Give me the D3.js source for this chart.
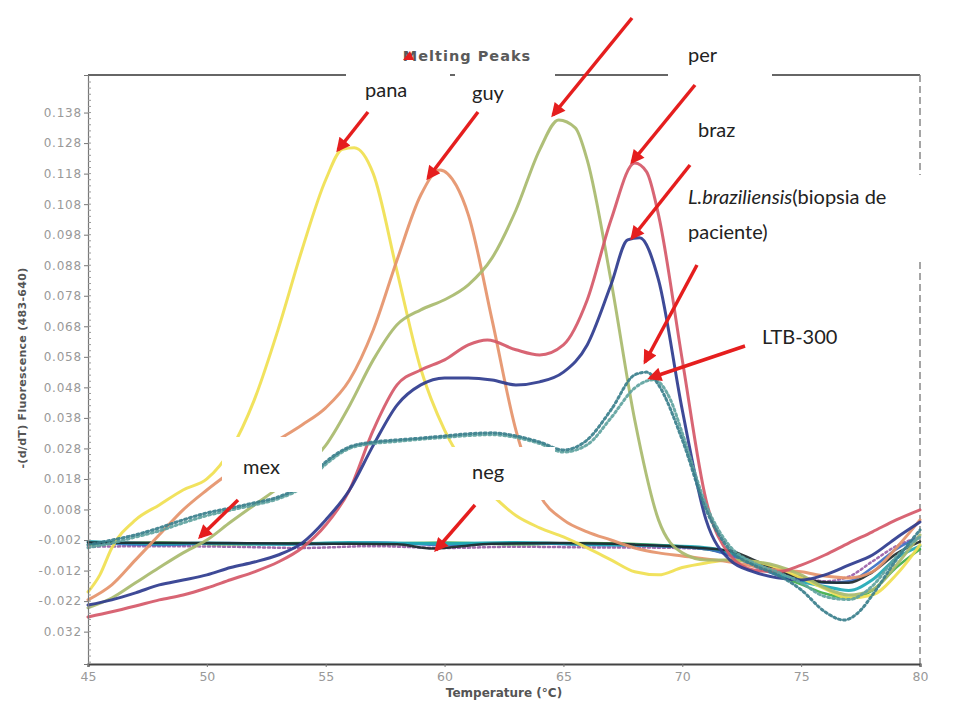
<!DOCTYPE html>
<html><head><meta charset="utf-8">
<script src="https://cdn.jsdelivr.net/npm/d3@7/dist/d3.min.js"></script>
<style>body{margin:0;background:#fff}svg{display:block}</style>
</head><body>
<svg id="c" width="953" height="707"></svg>
<script>
// ---- data ----
const xTicks = [45,50,55,60,65,70,75,80];
const yTickValues = [0.138,0.128,0.118,0.108,0.098,0.088,0.078,0.068,0.058,0.048,0.038,0.028,0.018,0.008,-0.002,-0.012,-0.022,-0.032];
const yTickLabels = ["0.138","0.128","0.118","0.108","0.098","0.088","0.078","0.068","0.058","0.048","0.038","0.028","0.018","0.008","-0.002","-0.012","-0.022","0.032"];

const pana = [[45,-0.019],[45.5,-0.0134],[46,-0.0046],[47,0.0046],[48,0.0095],[49,0.0144],[50,0.018],[51,0.0275],[52,0.044],[53,0.067],[54,0.093],[55,0.116],[55.7,0.126],[56.2,0.1265],[57,0.118],[58,0.086],[59,0.054],[60,0.034],[61,0.021],[62,0.0128],[63,0.006],[64,0.002],[65,-0.001],[66,-0.0046],[67,-0.0085],[68,-0.0124],[69,-0.0134],[70,-0.011],[71,-0.0095],[72,-0.0085],[73,-0.009],[74,-0.011],[75,-0.0144],[76,-0.018],[77,-0.021],[78,-0.020],[79,-0.0134],[80,-0.0036]];
const guy = [[45,-0.0216],[46,-0.0167],[47,-0.0085],[48,-0.0003],[49,0.0079],[50,0.0144],[51,0.0203],[52,0.0259],[53,0.0308],[54,0.0357],[55,0.0413],[56,0.0504],[57,0.0668],[58,0.0897],[59,0.111],[59.8,0.1192],[60.5,0.114],[61,0.1045],[62,0.070],[63,0.034],[64,0.0128],[65,0.0046],[66,0.0007],[67,-0.002],[68,-0.0046],[69,-0.0062],[70,-0.0072],[72,-0.0092],[74,-0.0118],[75,-0.0124],[76,-0.0138],[77,-0.0144],[78,-0.0124],[79,-0.0046],[80,0.0046]];
const olive = [[45,-0.0242],[46,-0.021],[47,-0.016],[48,-0.011],[49,-0.0062],[50,-0.002],[51,0.0039],[52,0.0095],[53,0.015],[54,0.021],[55,0.029],[56,0.042],[57,0.057],[58,0.0685],[59,0.0734],[60,0.0767],[61,0.0816],[62,0.0904],[63,0.106],[64,0.1258],[64.8,0.1356],[65.5,0.133],[66,0.1225],[67,0.083],[68,0.0373],[69,0.0046],[70,-0.0062],[71,-0.0085],[72,-0.0085],[73,-0.009],[74,-0.0105],[75,-0.0134],[76,-0.0177],[77,-0.020],[78,-0.0183],[79,-0.0102],[80,-0.0003]];
const per = [[45,-0.0272],[46,-0.0255],[47,-0.0236],[48,-0.0216],[49,-0.020],[50,-0.0177],[51,-0.015],[52,-0.0124],[53,-0.0092],[54,-0.0046],[55,0.0029],[56,0.0144],[57,0.034],[58,0.0488],[59,0.0537],[60,0.057],[61,0.0619],[61.8,0.0635],[63,0.0603],[64,0.0586],[65,0.0619],[66,0.0766],[67,0.1028],[68,0.1215],[68.5,0.1186],[69,0.1045],[70,0.057],[71,0.0111],[72,-0.0069],[73,-0.0118],[74,-0.0124],[75,-0.0102],[76,-0.0069],[77,-0.003],[78,0.0007],[79,0.0046],[80,0.0079]];
const braz = [[45,-0.0233],[46,-0.0216],[47,-0.0193],[48,-0.0167],[49,-0.0151],[50,-0.0134],[51,-0.011],[52,-0.0092],[53,-0.0069],[54,-0.003],[55,0.0046],[56,0.0144],[57,0.029],[58,0.0422],[59,0.0488],[60,0.0511],[61,0.0511],[62,0.0504],[63,0.0488],[64,0.0498],[65,0.053],[66,0.0619],[67,0.0816],[67.7,0.0963],[68.2,0.097],[69,0.0832],[70,0.0406],[71,0.0046],[72,-0.0085],[73,-0.0124],[74,-0.0144],[75,-0.0151],[76,-0.0134],[77,-0.0102],[78,-0.0069],[79,-0.0013],[80,0.0039]];
const biopsia = [[45,-0.0036],[46,-0.002],[47,-0.0003],[48,0.002],[49,0.0046],[50,0.0069],[51,0.0085],[52,0.0102],[53,0.0121],[54,0.016],[55,0.0236],[56,0.0285],[57,0.0301],[58,0.0308],[59,0.0314],[60,0.0321],[61,0.0328],[62,0.0331],[63,0.0321],[64,0.0301],[65,0.0275],[66,0.0308],[67,0.0406],[68,0.0521],[68.5,0.053],[69,0.0488],[70,0.0308],[71,0.0079],[72,-0.0052],[73,-0.0102],[74,-0.0134],[75,-0.0183],[76,-0.0255],[76.8,-0.0282],[77.5,-0.025],[78,-0.020],[79,-0.0085],[80,0.0013]];
const ltb300 = [[45,-0.0045],[46,-0.003],[47,-0.001],[48,0.001],[49,0.0036],[50,0.006],[51,0.0078],[52,0.0095],[53,0.0115],[54,0.0152],[55,0.0228],[56,0.028],[57,0.0296],[58,0.0303],[59,0.031],[60,0.0316],[61,0.0322],[62,0.0325],[63,0.0316],[64,0.0296],[65,0.0268],[66,0.0292],[67,0.038],[68,0.0478],[68.8,0.0505],[69.5,0.044],[70,0.033],[71,0.0095],[72,-0.004],[73,-0.0095],[74,-0.0125],[75,-0.016],[76,-0.0205],[77,-0.0215],[78,-0.017],[79,-0.0075],[80,-0.001]];
const neg = [[45,-0.0028],[50,-0.003],[55,-0.0032],[58,-0.0034],[59.5,-0.0048],[60.5,-0.0042],[62,-0.0032],[65,-0.003],[68,-0.0035],[70,-0.0042],[72,-0.0055],[73,-0.0085],[74,-0.012],[75,-0.0145],[76,-0.0158],[77,-0.016],[78,-0.0125],[79,-0.0065],[80,-0.0025]];
const mex = [[45,-0.0025],[48,-0.0032],[50,-0.003],[53,-0.0034],[56,-0.0028],[60,-0.0032],[63,-0.0028],[66,-0.0034],[69,-0.0038],[71,-0.0045],[72,-0.006],[73,-0.0095],[74,-0.013],[75,-0.0155],[76,-0.0172],[77,-0.0185],[78,-0.015],[79,-0.008],[80,-0.004]];
const ctrlGreen = [[45,-0.0035],[48,-0.0028],[51,-0.0034],[54,-0.003],[57,-0.0032],[60,-0.0028],[63,-0.0034],[66,-0.003],[69,-0.0036],[71,-0.005],[72,-0.0065],[73,-0.01],[74,-0.0135],[75,-0.0165],[76,-0.0195],[77,-0.021],[78,-0.0185],[79,-0.011],[80,-0.005]];
const ctrlBlue = [[45,-0.003],[48,-0.0036],[51,-0.003],[54,-0.0034],[57,-0.0028],[60,-0.0036],[63,-0.003],[66,-0.0036],[69,-0.004],[71,-0.005],[72,-0.007],[73,-0.0105],[74,-0.0135],[75,-0.0152],[76,-0.016],[77,-0.0155],[78,-0.011],[79,-0.005],[80,-0.001]];
const ctrlPurple = [[45,-0.0042],[48,-0.0040],[51,-0.0042],[54,-0.0046],[57,-0.004],[60,-0.0046],[63,-0.0042],[66,-0.0044],[69,-0.0045],[71,-0.005],[72,-0.007],[73,-0.01],[74,-0.0125],[75,-0.014],[76,-0.0155],[77,-0.014],[78,-0.009],[79,-0.004],[80,-0.001]];

const seriesList = [
  {name:"ctrlPurple", data:ctrlPurple, color:"#9a5fa8", dash:"2,3", w:2.5},
  {name:"ctrlGreen", data:ctrlGreen, color:"#3fae4c", dash:null, w:2.5},
  {name:"ctrlBlue", data:ctrlBlue, color:"#3b6fc4", dash:null, w:2.5},
  {name:"mex", data:mex, color:"#1fa9b5", dash:null, w:3},
  {name:"neg", data:neg, color:"#1e2a2e", dash:null, w:2.5},
  {name:"pana", data:pana, color:"#f0e050", dash:null, w:3},
  {name:"guy", data:guy, color:"#e5926a", dash:null, w:3},
  {name:"olive", data:olive, color:"#a8ba6c", dash:null, w:3},
  {name:"per", data:per, color:"#d55868", dash:null, w:3},
  {name:"braz", data:braz, color:"#2e3b8e", dash:null, w:3},
  {name:"ltb300", data:ltb300, color:"#5fa3a0", dash:"2,3", w:3},
  {name:"biopsia", data:biopsia, color:"#3a7f8c", dash:"2,3", w:3}
];

// ---- layout ----
const svg = d3.select("#c");
const x = d3.scaleLinear().domain([45,80]).range([88,920]);
const y = d3.scaleLinear().domain([-0.0426,0.1503]).range([664,75]);
const axisFont = "DejaVu Sans, Liberation Sans, sans-serif";

// title (under label boxes)
svg.append("text").attr("x",467).attr("y",61).attr("text-anchor","middle")
  .attr("font-family",axisFont).attr("font-weight","bold").attr("letter-spacing",1)
  .attr("font-size",14.5).attr("fill","#5a5a5a").text("Melting Peaks");

// top border
svg.append("line").attr("x1",88).attr("x2",920).attr("y1",75).attr("y2",75)
  .attr("stroke","#666").attr("stroke-width",2);
// right dashed border
svg.append("line").attr("x1",920).attr("x2",920).attr("y1",75).attr("y2",664)
  .attr("stroke","#888").attr("stroke-width",1.5).attr("stroke-dasharray","7,4");

// lines
const line = d3.line().x(d=>x(d[0])).y(d=>y(d[1])).curve(d3.curveMonotoneX);
svg.append("g").selectAll("path").data(seriesList).join("path")
  .attr("d",d=>line(d.data)).attr("fill","none")
  .attr("stroke",d=>d.color).attr("stroke-width",d=>d.w)
  .attr("stroke-linecap","round").attr("stroke-linejoin","round")
  .attr("stroke-dasharray",d=>d.dash).attr("opacity",0.92);

// x axis
const gx = svg.append("g").attr("transform","translate(0,664)")
  .call(d3.axisBottom(x).tickValues(xTicks).tickSize(3).tickFormat(d3.format("d")));
gx.select(".domain").attr("stroke","#444").attr("stroke-width",2.2);
gx.selectAll(".tick line").attr("stroke","#777");
gx.selectAll("text").attr("fill","#999").attr("font-size",12.5)
  .attr("font-family",axisFont).attr("dy","0.85em");

// y axis
const gy = svg.append("g").attr("transform","translate(88,0)")
  .call(d3.axisLeft(y).tickValues(yTickValues).tickSize(4).tickPadding(2)
    .tickFormat((d,i)=>yTickLabels[i]));
gy.select(".domain").attr("stroke","#777").attr("stroke-width",1.2);
gy.selectAll(".tick line").attr("stroke","#777");
gy.selectAll("text").attr("fill","#999").attr("font-size",12).attr("letter-spacing",0.8)
  .attr("font-family",axisFont);
// minor ticks
const minor = d3.range(-0.042,0.150,0.002);
svg.append("g").selectAll("line").data(minor).join("line")
  .attr("x1",88).attr("x2",91).attr("y1",d=>y(d)).attr("y2",d=>y(d))
  .attr("stroke","#999").attr("stroke-width",1);

// axis titles
svg.append("text").attr("x",504).attr("y",697).attr("text-anchor","middle")
  .attr("font-family",axisFont).attr("font-weight","bold")
  .attr("font-size",12).attr("fill","#555").text("Temperature (°C)");
svg.append("text").attr("transform","translate(26,368) rotate(-90)").attr("text-anchor","middle")
  .attr("font-family",axisFont).attr("font-weight","bold").attr("letter-spacing",0.3)
  .attr("font-size",11).attr("fill","#555").text("-(d/dT) Fluorescence (483-640)");

// annotation boxes
const boxes = [[346,64,104,50],[455,64,100,50],[668,28,104,50],[690,108,80,42],[685,175,262,85],[752,318,110,42],[222,437,100,55],[445,447,110,53]];
svg.append("g").selectAll("rect").data(boxes).join("rect")
  .attr("x",d=>d[0]).attr("y",d=>d[1]).attr("width",d=>d[2]).attr("height",d=>d[3]).attr("fill","#fff");
// small tick remnant between boxes
svg.append("line").attr("x1",450).attr("x2",453).attr("y1",75).attr("y2",75).attr("stroke","#666").attr("stroke-width",2);

const labelFont = "Lato, 'Open Sans', sans-serif";
const labels = [
  {t:"pana", x:365, y:97},
  {t:"guy", x:472, y:100},
  {t:"per", x:688, y:62},
  {t:"braz", x:698, y:137},
  {t:"LTB-300", x:762, y:344},
  {t:"mex", x:243, y:474},
  {t:"neg", x:472, y:479}
];
svg.append("g").selectAll("text").data(labels).join("text")
  .attr("x",d=>d.x).attr("y",d=>d.y).attr("font-family",labelFont).attr("font-size",20)
  .attr("fill","#222").text(d=>d.t);
const t1 = svg.append("text").attr("x",688).attr("y",204).attr("font-family",labelFont)
  .attr("font-size",20).attr("fill","#222");
t1.append("tspan").attr("font-style","italic").text("L.braziliensis");
t1.append("tspan").text("(biopsia de");
svg.append("text").attr("x",688).attr("y",239).attr("font-family",labelFont)
  .attr("font-size",20).attr("fill","#222").text("paciente)");

// arrows
const defs = svg.append("defs");
defs.append("marker").attr("id","ah").attr("viewBox","0 0 10 10").attr("refX",8).attr("refY",5)
  .attr("markerWidth",16).attr("markerHeight",14).attr("markerUnits","userSpaceOnUse")
  .attr("orient","auto").append("path").attr("d","M0,0 L10,5 L0,10 z").attr("fill","#e51e1e");
const arrows = [[368,112,338,150],[478,112,428,178],[632,18,553,115],[695,85,632,162],[690,165,632,238],[697,265,645,362],[745,346,650,378],[238,500,200,537],[475,505,436,550]];
svg.append("g").selectAll("line").data(arrows).join("line")
  .attr("x1",d=>d[0]).attr("y1",d=>d[1]).attr("x2",d=>d[2]).attr("y2",d=>d[3])
  .attr("stroke","#e51e1e").attr("stroke-width",3.5).attr("marker-end","url(#ah)");
// small red mark on title
svg.append("path").attr("d","M403,60 L410,51 L414,60 z").attr("fill","#e51e1e");
</script>
</body></html>
